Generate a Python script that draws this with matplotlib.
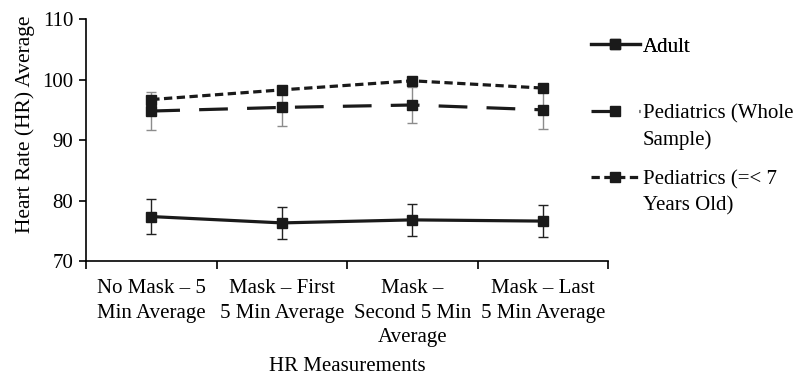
import numpy as np
import matplotlib
matplotlib.use('Agg')
import matplotlib.pyplot as plt
from matplotlib.legend_handler import HandlerLine2D

plt.rcParams['font.family'] = ['Liberation Serif', 'DejaVu Serif']
plt.rcParams['font.size'] = 15

categories = ['No Mask – 5\nMin Average', 'Mask – First\n5 Min Average',
              'Mask –\nSecond 5 Min\nAverage', 'Mask – Last\n5 Min Average']
adult = [77.35, 76.3, 76.8, 76.6]
adult_err = [2.9, 2.7, 2.7, 2.65]
ped_whole = [94.8, 95.4, 95.8, 95.0]
ped_whole_err = [3.1, 3.0, 3.0, 3.2]
ped_7 = [96.7, 98.3, 99.8, 98.6]


class FirstLineHandler(HandlerLine2D):
    # put the legend line level with the first line of a two-line label
    def create_artists(self, legend, orig_handle, xdescent, ydescent, width, height, fontsize, trans):
        arts = super().create_artists(legend, orig_handle, xdescent, ydescent, width, height, fontsize, trans)
        for a in arts:
            a.set_ydata(np.asarray(a.get_ydata()) + 0.72 * fontsize)
        return arts


fig = plt.figure(figsize=(7.96, 3.75), dpi=100)
ax = fig.add_axes([0.108, 0.304, 0.656, 0.645])

x = np.arange(len(categories))
col = '#1a1a1a'

ax.errorbar(x, adult, yerr=adult_err, fmt='none', ecolor='#222222', elinewidth=1, capsize=3.5, capthick=1, zorder=2)
ax.errorbar(x, ped_whole, yerr=ped_whole_err, fmt='none', ecolor='#8c8c8c', elinewidth=1, capsize=3.5, capthick=1, zorder=2)

l1, = ax.plot(x, adult, '-', color=col, lw=2.3, marker='s', markersize=6.5, label='Adult', zorder=3)
l2, = ax.plot(x, ped_whole, color=col, lw=2.3, marker='s', markersize=6.5, dashes=(9, 6),
              label='Pediatrics (Whole\nSample)', zorder=3)
l3, = ax.plot(x, ped_7, color=col, lw=2.3, marker='s', markersize=6.5, dashes=(2.6, 1.4),
              label='Pediatrics (=< 7\nYears Old)', zorder=3)

ax.set_xlim(-0.5, 3.5)
ax.set_ylim(70, 110)
ax.set_yticks([70, 80, 90, 100, 110])
ax.set_xticks(x)
ax.set_xticklabels(categories, linespacing=1.4)
ax.set_xticks(np.arange(-0.5, 4, 1), minor=True)
ax.tick_params(axis='x', which='major', length=0, pad=13)
ax.tick_params(axis='x', which='minor', length=6, width=1.2, direction='out')
ax.tick_params(axis='y', length=5, width=1.2, direction='out', pad=4)
for s in ['top', 'right']:
    ax.spines[s].set_visible(False)
for s in ['left', 'bottom']:
    ax.spines[s].set_linewidth(1.2)

ax.set_ylabel('Heart Rate (HR) Average', fontsize=15.5)
ax.yaxis.set_label_coords(-0.098, 0.566)
ax.set_xlabel('HR Measurements', labelpad=7)

leg1 = fig.legend(handles=[l1], loc='center left', bbox_to_anchor=(0.742, 0.875),
                  frameon=False, handlelength=2.35, handletextpad=0.15, borderaxespad=0,
                  borderpad=0, numpoints=1)
leg2 = fig.legend(handles=[l2, l3], loc='center left', bbox_to_anchor=(0.742, 0.5747),
                  frameon=False, handlelength=2.35, handletextpad=0.15, borderaxespad=0,
                  borderpad=0, labelspacing=0.99, numpoints=1,
                  handler_map={l2: FirstLineHandler(), l3: FirstLineHandler()})
for lg in (leg1, leg2):
    for t in lg.get_texts():
        t.set_linespacing(1.45)
fig.add_artist(leg1)

fig.savefig('out.png', dpi=100)
